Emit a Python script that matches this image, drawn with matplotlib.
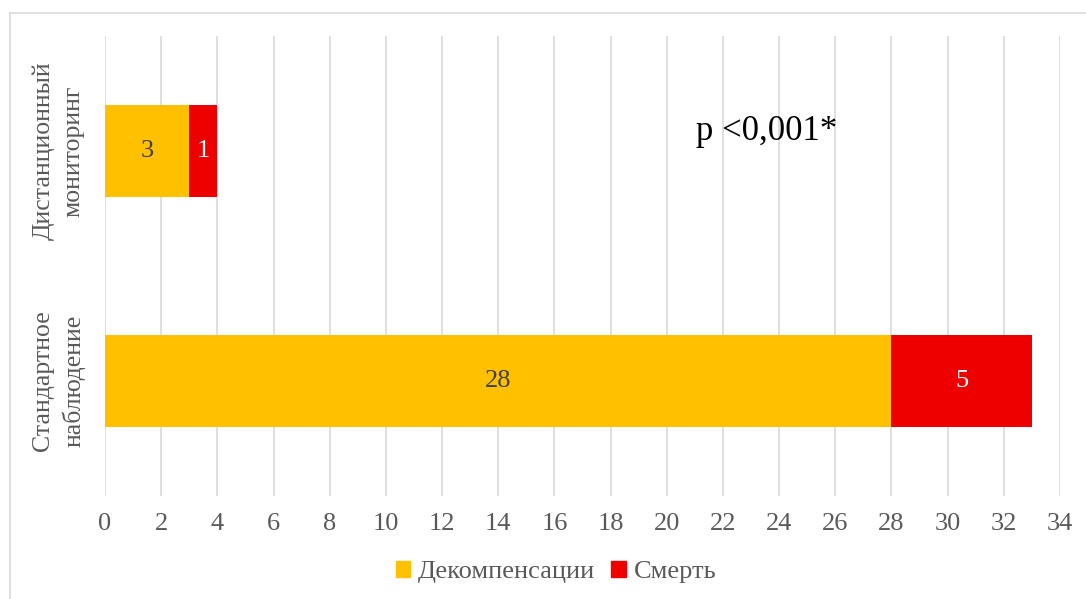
import matplotlib
matplotlib.use("Agg")
import matplotlib.pyplot as plt
from matplotlib.lines import Line2D
from matplotlib.patches import Patch

categories = ["Стандартное\nнаблюдение", "Дистанционный\nмониторинг"]
decomp = [28, 3]
death = [5, 1]
series_names = ["Декомпенсации", "Смерть"]
xticks = list(range(0, 35, 2))
annotation = "p <0,001*"

plt.rcParams['font.family'] = ['Liberation Serif', 'DejaVu Serif']

W, H = 1086, 599
fig = plt.figure(figsize=(W / 100, H / 100), dpi=100)
ax = fig.add_axes([105 / W, 1 - 496 / H, (1060 - 105) / W, (496 - 36) / H])

gray = "#595959"
c1, c2 = "#FFC000", "#EE0000"
y = list(range(len(categories)))
ax.barh(y, decomp, height=0.4, color=c1, zorder=3)
ax.barh(y, death, left=decomp, height=0.4, color=c2, zorder=3)

for i in y:
    ax.text(decomp[i] / 2, i, str(decomp[i]), ha="center", va="center",
            fontsize=19, color="#404040", zorder=4)
    ax.text(decomp[i] + death[i] / 2, i, str(death[i]), ha="center", va="center",
            fontsize=19, color="white", zorder=4)

ax.set_xlim(0, 34)
ax.set_ylim(-0.5, 1.5)
ax.set_xticks(xticks)
ax.set_xticklabels([str(t) for t in xticks], fontsize=19, color=gray)
ax.set_yticks(y)
ax.set_yticklabels(categories, rotation=90, va="center", ha="center",
                   fontsize=18.5, color=gray, linespacing=1.45)
ax.tick_params(axis="y", length=0, pad=33.5)
ax.tick_params(axis="x", length=0, pad=12)
ax.grid(axis="x", color="#D9D9D9", linewidth=1.2, zorder=0)
for s in ax.spines.values():
    s.set_visible(False)

ax.text(21.05, 1.083, annotation, fontsize=25, color="black", va="center", ha="left")

handles = [Patch(color=c1, label=series_names[0]), Patch(color=c2, label=series_names[1])]
fig.legend(handles=handles, loc="center", bbox_to_anchor=(556 / W, 1 - 572 / H), ncol=2,
           frameon=False, fontsize=19, labelcolor=gray, handlelength=0.55,
           handleheight=0.55, handletextpad=0.3, columnspacing=0.6)

fig.add_artist(Line2D([10 / W, 1], [1 - 13 / H, 1 - 13 / H], color="#D9D9D9", lw=1.2,
                      transform=fig.transFigure))
fig.add_artist(Line2D([10 / W, 10 / W], [0, 1 - 13 / H], color="#D9D9D9", lw=1.2,
                      transform=fig.transFigure))

fig.savefig("out.png", dpi=100, facecolor="white")
